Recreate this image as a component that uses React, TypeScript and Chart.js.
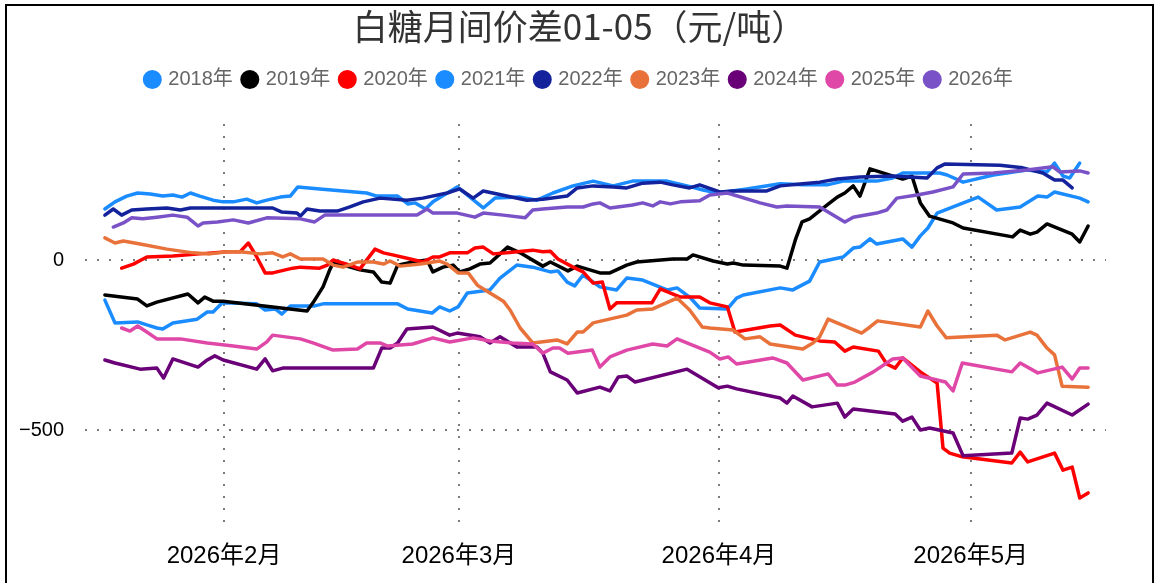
import React, { useEffect, useRef } from 'react';
import { Chart, registerables } from 'chart.js';

Chart.register(...registerables);

// ---- text ----
const titleText = '白糖月间价差01-05（元/吨）';
const seriesNames = ['2018年', '2019年', '2020年', '2021年', '2022年', '2023年', '2024年', '2025年', '2026年'];
const seriesColors = ['#1A8CFF', '#000000', '#FF0000', '#1A8CFF', '#14239B', '#E8723A', '#6A0078', '#E048A8', '#7A52C8'];

// x = day offset within 2026 (Jan 1 = 0), y = spread (元/吨)
const monthTickDays = [31, 59, 90, 120];
const monthTickLabels = ['2026年2月', '2026年3月', '2026年4月', '2026年5月'];
const yTickValues = [-500, 0];
const xMin = 14.43;
const xMax = 136.13;
const yMin = -800;
const yMax = 400;

// ---- 2018 ----
const days2018 = [16.8, 18.0, 20.7, 21.8, 23.0, 23.7, 24.9, 27.8, 29.0, 29.7, 30.8, 34.9, 35.9, 37.1, 37.9, 38.9, 41.8, 42.8, 51.7, 52.9, 55.8, 56.7, 57.9, 58.9, 60.0, 62.7, 63.9, 65.9, 67.8, 69.9, 70.8, 71.9, 72.8, 73.8, 75.8, 77.8, 79.0, 80.9, 83.8, 85.0, 86.5, 87.7, 91.0, 92.1, 92.9, 97.3, 98.8, 100.8, 102.0, 104.8, 106.0, 106.8, 108.0, 108.8, 111.9, 113.0, 114.0, 114.9, 116.0, 117.9, 120.9, 123.1, 125.9, 128.0, 129.1, 130.0, 133.0, 134.0];
const vals2018 = [-118, -185, -182, -191, -200, -203, -185, -174, -153, -153, -126, -129, -147, -144, -159, -135, -135, -129, -129, -144, -156, -138, -150, -138, -97, -88, -53, -15, -21, -35, -32, -65, -76, -44, -79, -88, -53, -59, -88, -82, -109, -141, -144, -112, -103, -82, -88, -62, -6, 9, 35, 38, 62, 47, 62, 38, 71, 94, 138, 156, 185, 147, 156, 188, 185, 200, 182, 171];

// ---- 2019 ----
const days2019 = [16.8, 20.7, 21.8, 23.0, 26.7, 27.9, 28.7, 29.7, 30.9, 40.9, 41.6, 42.8, 43.6, 44.0, 45.2, 47.2, 48.8, 49.8, 50.8, 51.7, 53.5, 55.2, 55.9, 57.1, 58.3, 59.1, 60.3, 61.5, 62.7, 64.8, 66.3, 69.0, 69.9, 72.0, 73.1, 75.8, 77.0, 79.0, 80.2, 84.5, 86.2, 86.9, 89.3, 91.0, 91.7, 92.9, 97.3, 98.1, 99.1, 99.9, 100.8, 102.9, 104.1, 105.0, 106.0, 106.8, 108.0, 111.9, 113.0, 114.0, 115.1, 117.9, 119.1, 125.0, 125.9, 127.1, 127.9, 129.1, 132.1, 133.0, 134.0];
const vals2019 = [-103, -115, -135, -124, -100, -126, -109, -121, -121, -150, -126, -79, -29, -9, -15, -29, -35, -65, -68, -15, -6, 0, -35, -21, -15, -35, -26, -12, -9, 38, 21, -18, -6, -32, -18, -38, -38, -15, -6, 3, 3, 15, -3, -12, -9, -15, -18, -24, 59, 112, 121, 162, 185, 197, 218, 188, 268, 238, 247, 168, 129, 109, 94, 68, 88, 76, 82, 106, 76, 53, 100];

// ---- 2020 ----
const days2020 = [18.8, 20.2, 21.8, 24.9, 28.1, 31.4, 32.9, 33.9, 34.9, 35.9, 36.8, 39.2, 40.1, 42.4, 43.3, 44.0, 46.0, 47.2, 49.0, 50.0, 51.1, 53.2, 54.7, 55.9, 56.7, 57.9, 60.0, 60.9, 61.9, 63.1, 64.7, 67.8, 69.0, 69.9, 70.8, 72.6, 73.8, 75.0, 76.1, 77.0, 77.8, 82.0, 83.0, 85.4, 87.7, 88.9, 91.0, 91.9, 93.3, 96.1, 97.3, 99.1, 102.0, 103.8, 105.0, 106.0, 109.0, 110.0, 111.0, 111.9, 114.0, 116.0, 116.7, 117.5, 119.0, 124.9, 125.9, 126.8, 130.0, 131.0, 132.1, 133.0, 134.0];
const vals2020 = [-24, -12, 9, 12, 18, 24, 24, 50, 9, -38, -38, -24, -21, -24, -15, 0, -15, -26, 32, 21, 15, 3, -6, 9, 9, 21, 21, 35, 38, 18, 21, 29, 24, 26, 3, -21, -35, -68, -65, -144, -126, -126, -85, -109, -109, -126, -138, -212, -206, -194, -191, -221, -238, -241, -268, -256, -268, -306, -318, -288, -329, -362, -553, -568, -579, -597, -565, -594, -568, -618, -609, -700, -685];

// ---- 2021 ----
const days2021 = [16.8, 18.0, 19.4, 20.7, 22.2, 23.7, 24.9, 26.0, 27.0, 28.1, 29.7, 30.9, 32.1, 33.7, 34.9, 36.1, 37.7, 38.9, 39.8, 42.4, 48.0, 49.2, 51.7, 52.9, 53.8, 55.0, 55.9, 58.8, 61.9, 63.3, 66.3, 68.3, 70.2, 72.6, 75.0, 77.4, 79.7, 83.8, 86.2, 88.1, 89.8, 93.3, 97.3, 100.0, 102.9, 104.8, 108.8, 110.7, 111.9, 116.3, 117.2, 119.1, 122.7, 126.7, 129.1, 130.0, 131.0, 131.8, 133.0];
const vals2021 = [150, 171, 188, 197, 194, 188, 191, 185, 197, 188, 176, 171, 171, 179, 168, 176, 185, 188, 215, 209, 197, 188, 188, 165, 168, 150, 171, 215, 153, 182, 185, 176, 197, 218, 232, 218, 232, 232, 218, 206, 197, 209, 224, 221, 221, 232, 232, 241, 256, 256, 250, 229, 250, 265, 259, 285, 247, 241, 285];

// ---- 2022 ----
const days2022 = [16.8, 17.8, 18.8, 20.0, 21.8, 24.2, 25.8, 27.0, 36.8, 37.9, 39.7, 40.1, 40.9, 42.4, 44.5, 46.0, 47.6, 49.6, 52.8, 54.7, 57.6, 59.1, 60.7, 61.9, 64.7, 67.1, 69.0, 71.9, 73.1, 75.0, 77.4, 79.0, 80.9, 83.0, 84.5, 86.5, 87.7, 90.1, 91.7, 95.7, 97.3, 100.0, 102.0, 104.1, 106.8, 110.7, 114.8, 116.0, 116.9, 123.5, 126.2, 128.6, 130.0, 131.0, 132.1];
const vals2022 = [132, 150, 132, 147, 150, 153, 147, 153, 153, 141, 138, 129, 150, 144, 144, 156, 171, 182, 176, 182, 197, 209, 182, 203, 188, 176, 179, 188, 212, 218, 215, 212, 226, 229, 221, 212, 221, 200, 203, 203, 218, 224, 229, 238, 244, 247, 241, 271, 282, 279, 271, 256, 235, 235, 212];

// ---- 2023 ----
const days2023 = [16.8, 18.0, 19.0, 21.0, 24.2, 27.3, 29.3, 31.4, 32.9, 35.3, 36.8, 38.0, 38.9, 40.1, 42.8, 44.0, 45.2, 46.9, 48.8, 50.0, 50.8, 52.0, 54.4, 56.7, 57.6, 58.9, 60.1, 61.2, 62.7, 64.3, 65.1, 66.3, 67.8, 70.7, 71.9, 73.1, 73.8, 75.0, 79.0, 80.2, 82.1, 85.0, 86.5, 88.0, 88.9, 91.7, 93.1, 94.9, 96.1, 100.0, 101.2, 102.0, 103.0, 107.0, 108.0, 108.9, 114.0, 114.9, 116.0, 117.1, 123.1, 124.1, 127.1, 127.9, 129.1, 130.0, 130.9, 134.0];
const vals2023 = [65, 50, 56, 47, 32, 21, 18, 24, 24, 18, 21, 9, 18, 3, 3, -15, -21, -6, -6, -12, -3, -18, -12, -3, -12, -38, -38, -74, -97, -121, -147, -200, -244, -235, -247, -212, -212, -185, -162, -147, -144, -112, -147, -197, -200, -206, -232, -226, -247, -262, -244, -226, -174, -215, -197, -179, -197, -150, -194, -229, -221, -235, -212, -221, -259, -279, -371, -374];

// ---- 2024 ----
const days2024 = [16.8, 18.0, 21.0, 23.0, 23.8, 24.9, 27.9, 29.0, 29.9, 30.9, 34.9, 35.9, 36.8, 38.0, 48.8, 49.8, 50.8, 51.7, 52.8, 55.9, 57.9, 58.8, 61.5, 62.7, 63.9, 65.9, 68.3, 69.0, 69.9, 71.9, 73.1, 75.8, 77.0, 78.0, 79.0, 80.0, 86.2, 89.9, 91.0, 92.1, 97.3, 98.1, 98.8, 101.1, 104.1, 105.0, 106.0, 108.0, 111.0, 111.9, 113.0, 114.0, 115.1, 117.9, 119.1, 124.9, 125.9, 126.8, 127.9, 129.1, 132.1, 134.0];
const vals2024 = [-294, -303, -321, -318, -347, -291, -315, -294, -282, -294, -321, -291, -326, -318, -318, -259, -259, -244, -203, -197, -221, -215, -226, -244, -226, -256, -256, -274, -329, -353, -391, -374, -385, -344, -341, -359, -321, -376, -371, -379, -406, -421, -400, -432, -421, -462, -438, -444, -453, -474, -462, -500, -494, -509, -576, -568, -465, -468, -456, -421, -456, -424];

// ---- 2025 ----
const days2025 = [18.8, 19.8, 20.7, 21.8, 23.0, 25.8, 29.0, 32.1, 34.9, 36.1, 36.8, 40.1, 41.6, 44.0, 46.9, 48.0, 49.6, 50.5, 53.5, 55.9, 57.9, 60.7, 62.7, 65.4, 67.8, 69.0, 70.2, 71.0, 72.0, 74.9, 75.8, 77.0, 79.0, 82.1, 83.8, 85.0, 88.9, 90.1, 91.1, 92.1, 96.4, 98.1, 100.0, 103.0, 104.1, 105.0, 106.2, 108.4, 110.7, 111.9, 114.0, 116.0, 117.0, 117.9, 119.0, 124.9, 125.9, 128.0, 130.9, 132.1, 133.0, 134.0];
const vals2025 = [-200, -209, -194, -212, -232, -232, -244, -253, -262, -241, -221, -232, -244, -265, -262, -244, -244, -253, -247, -229, -241, -229, -238, -244, -247, -274, -259, -259, -274, -265, -315, -285, -265, -247, -253, -232, -271, -291, -285, -306, -288, -303, -353, -335, -368, -368, -359, -329, -291, -288, -341, -353, -359, -385, -303, -329, -303, -332, -315, -350, -318, -318];

// ---- 2026 ----
const days2026 = [17.8, 19.0, 20.0, 21.3, 23.0, 24.9, 26.6, 27.3, 27.9, 28.5, 30.2, 32.1, 33.9, 36.1, 40.1, 41.8, 43.0, 54.0, 55.2, 55.9, 58.8, 60.9, 61.9, 64.3, 66.9, 67.8, 69.0, 71.9, 73.8, 75.0, 75.8, 77.0, 79.7, 80.9, 82.1, 83.0, 84.2, 85.4, 87.7, 88.9, 91.0, 94.9, 96.9, 98.1, 102.0, 105.0, 106.0, 108.8, 110.0, 111.2, 113.6, 115.5, 117.9, 119.1, 122.7, 126.7, 129.8, 130.6, 133.0, 134.0];
const vals2026 = [97, 109, 124, 121, 126, 132, 126, 112, 100, 109, 112, 118, 109, 124, 121, 112, 132, 132, 150, 138, 138, 126, 138, 132, 124, 147, 150, 156, 156, 165, 168, 153, 162, 168, 159, 171, 165, 171, 174, 191, 197, 168, 156, 159, 156, 112, 126, 138, 147, 182, 191, 200, 215, 253, 256, 265, 274, 259, 262, 256];

const seriesDays = [days2018, days2019, days2020, days2021, days2022, days2023, days2024, days2025, days2026];
const seriesVals = [vals2018, vals2019, vals2020, vals2021, vals2022, vals2023, vals2024, vals2025, vals2026];

const toPoints = (days: number[], vals: number[]) => {
  const n = Math.min(days.length, vals.length);
  const out: { x: number; y: number }[] = [];
  for (let i = 0; i < n; i++) out.push({ x: days[i], y: vals[i] });
  return out;
};

const FONT = '"Liberation Sans", "Noto Sans CJK SC", sans-serif';

const legendGap = {
  id: 'legendGap',
  beforeInit(chart: any) {
    const lg = chart.legend;
    if (!lg) return;
    const orig = lg.fit;
    lg.fit = function () {
      orig.call(this);
      this.height += 24.5;
    };
  },
};

export default function App() {
  const ref = useRef<HTMLCanvasElement>(null);

  useEffect(() => {
    const canvas = ref.current;
    if (!canvas) return;
    const datasets = seriesNames.map((name, i) => ({
      label: name,
      data: toPoints(seriesDays[i], seriesVals[i]),
      borderColor: seriesColors[i],
      backgroundColor: seriesColors[i],
      borderWidth: 3.5,
      pointRadius: 0,
      pointHoverRadius: 0,
      tension: 0,
      fill: false,
      borderJoinStyle: 'round' as const,
      borderCapStyle: 'round' as const,
      order: -i,
    }));

    const chart = new Chart(canvas, {
      type: 'line',
      data: { datasets },
      plugins: [legendGap],
      options: {
        animation: false,
        responsive: false,
        devicePixelRatio: 1,
        layout: { padding: 0 },
        events: [],
        plugins: {
          tooltip: { enabled: false },
          title: {
            display: true,
            text: titleText,
            color: '#333',
            font: { family: '"Noto Sans CJK SC", sans-serif', size: 35, weight: 'normal' as any, lineHeight: 1.2 },
            padding: { top: 0, bottom: 10.5 },
          },
          legend: {
            display: true,
            position: 'top',
            align: 'center',
            labels: {
              usePointStyle: true,
              pointStyle: 'circle',
              boxWidth: 12,
              boxHeight: 11,
              padding: 11,
              color: '#666',
              font: { family: FONT, size: 20 },
              sort: (a: any, b: any) => a.datasetIndex - b.datasetIndex,
            },
          },
        },
        scales: {
          x: {
            type: 'linear',
            min: xMin,
            max: xMax,
            afterBuildTicks: (axis: any) => {
              axis.ticks = monthTickDays.map((v) => ({ value: v }));
            },
            afterFit: (s: any) => {
              s.height = 51;
            },
            ticks: {
              autoSkip: false,
              maxRotation: 0,
              minRotation: 0,
              padding: 10,
              color: '#000',
              font: { family: FONT, size: 24 },
              callback: (value: any) => {
                const idx = monthTickDays.indexOf(Number(value));
                return idx >= 0 ? monthTickLabels[idx] : '';
              },
            },
            grid: {
              display: true,
              drawTicks: false,
              color: 'rgba(100,100,100,0.85)',
              lineWidth: 2,
            },
            border: { display: false, dash: [2, 10] },
          },
          y: {
            type: 'linear',
            position: 'left',
            min: yMin,
            max: yMax,
            afterBuildTicks: (axis: any) => {
              axis.ticks = yTickValues.map((v) => ({ value: v }));
            },
            afterFit: (s: any) => {
              s.width = 78;
            },
            ticks: {
              padding: 21,
              color: '#000',
              font: { family: FONT, size: 20 },
              callback: (value: any) => {
                const v = Number(value);
                return v < 0 ? '\u2212' + Math.abs(v) : String(v);
              },
            },
            grid: {
              display: true,
              drawTicks: false,
              color: 'rgba(100,100,100,0.85)',
              lineWidth: 2,
            },
            border: { display: false, dash: [2, 10] },
          },
          yRight: {
            type: 'linear',
            position: 'right',
            display: true,
            grid: { display: false, drawTicks: false },
            ticks: { display: false },
            border: { display: false },
            afterFit: (s: any) => {
              s.width = 46;
            },
          },
        },
      },
    } as any);

    return () => chart.destroy();
  }, []);

  return (
    <div
      style={{
        position: 'fixed',
        left: 5,
        top: 4,
        width: 1145,
        height: 600,
        borderTop: '2px solid #000',
        borderLeft: '2px solid #000',
        borderRight: '2px solid #000',
        background: '#fff',
      }}
    >
      <canvas ref={ref} width={1145} height={577} style={{ display: 'block', width: 1145, height: 577 }} />
    </div>
  );
}
